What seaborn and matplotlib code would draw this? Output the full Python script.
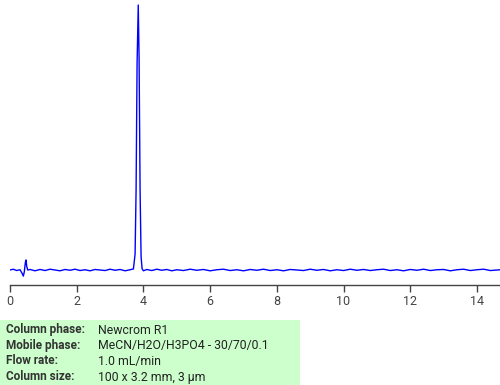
import matplotlib
matplotlib.use("Agg")
import matplotlib.pyplot as plt
import seaborn as sns
import pandas as pd

# Chromatogram points (time in min, detector signal in arbitrary units)
time_min = [0.00, 0.10, 0.20, 0.30, 0.36, 0.40, 0.43, 0.46, 0.48, 0.50, 0.53, 0.60,
            0.75, 0.90, 1.05, 1.20, 1.35, 1.50, 1.65, 1.80, 1.95, 2.10, 2.25, 2.40,
            2.55, 2.70, 2.85, 3.00, 3.15, 3.30, 3.45, 3.60, 3.70, 3.75, 3.78, 3.81,
            3.845, 3.87, 3.90, 3.93, 3.96, 4.00, 4.10, 4.25, 4.40, 4.55, 4.70, 4.85,
            5.00, 5.20, 5.40, 5.60, 5.80, 6.00, 6.20, 6.40, 6.60, 6.80, 7.00, 7.20,
            7.40, 7.60, 7.80, 8.00, 8.20, 8.40, 8.60, 8.80, 9.00, 9.20, 9.40, 9.60,
            9.80, 10.00, 10.20, 10.40, 10.60, 10.80, 11.00, 11.20, 11.40, 11.60,
            11.80, 12.00, 12.20, 12.40, 12.60, 12.80, 13.00, 13.20, 13.40, 13.60,
            13.80, 14.00, 14.20, 14.40, 14.70]
signal = [0.0, 0.3, -0.2, 0.1, -1.2, -2.3, -0.6, 2.8, 3.8, 1.5, 0.0, 0.2,
          -0.3, 0.2, -0.2, 0.3, 0.0, -0.3, 0.2, -0.1, 0.3, -0.2, 0.1, -0.3,
          0.2, 0.0, -0.2, 0.3, -0.1, 0.2, -0.3, 0.1, 0.4, 6.0, 30.0, 78.0,
          100.0, 80.0, 30.0, 5.0, 0.5, -0.3, 0.2, -0.2, 0.3, -0.1, 0.2, -0.3,
          0.1, -0.2, 0.3, -0.1, 0.2, -0.3, 0.1, 0.3, -0.2, 0.1, -0.3, 0.2,
          -0.1, 0.3, -0.2, 0.1, -0.3, 0.2, 0.0, -0.2, 0.3, -0.1, 0.2, -0.3,
          0.1, -0.2, 0.3, -0.1, 0.2, -0.2, 0.1, 0.3, -0.2, 0.1, -0.3, 0.2,
          -0.1, 0.3, -0.2, 0.1, 0.2, -0.3, 0.1, 0.3, -0.2, 0.1, 0.3, -0.2, 0.1]

x_ticks = [0, 2, 4, 6, 8, 10, 12, 14]

info_labels = ["Column phase:", "Mobile phase:", "Flow rate:", "Column size:"]
info_values = ["Newcrom R1", "MeCN/H2O/H3PO4 - 30/70/0.1", "1.0 mL/min",
               "100 x 3.2 mm, 3 \u00b5m"]

sns.set_style("white")
plt.rcParams['font.family'] = ['Roboto', 'DejaVu Sans']

df = pd.DataFrame({"time": time_min, "signal": signal})

fig = plt.figure(figsize=(5.0, 3.85), dpi=100)
ax = fig.add_axes([10 / 500, 100 / 385, 490 / 500, 285 / 385])
sns.lineplot(data=df, x="time", y="signal", ax=ax, color="#0000ff",
             linewidth=1.0, estimator=None, sort=False)

ax.set_xlim(0, 14.69)
ax.set_ylim(-5.66, 101.9)
ax.set_xticks(x_ticks)
ax.set_xticklabels([str(t) for t in x_ticks])
ax.set_yticks([])
ax.set_xlabel("")
ax.set_ylabel("")
for s in ["top", "right", "left"]:
    ax.spines[s].set_visible(False)
ax.spines["bottom"].set_color("#444444")
ax.spines["bottom"].set_linewidth(1.0)
ax.tick_params(axis="x", direction="out", length=5, width=1, color="#444444",
               labelsize=9, labelcolor="#444444", pad=2, bottom=True)
ax.set_facecolor("white")

# Info box
fig.patches.append(plt.Rectangle((0, 0), 300 / 500, 65 / 385,
                                 transform=fig.transFigure,
                                 facecolor="#ccffcc", edgecolor="none", zorder=0))
ys = [330, 346, 361, 377]
for lab, val, y in zip(info_labels, info_values, ys):
    fig.text(6 / 500, 1 - y / 385, lab, fontsize=8.5, fontweight="bold",
             color="#333333", va="center", ha="left")
    fig.text(98 / 500, 1 - y / 385, val, fontsize=8.8, color="#222222",
             va="center", ha="left")

fig.savefig("out.png", dpi=100)
